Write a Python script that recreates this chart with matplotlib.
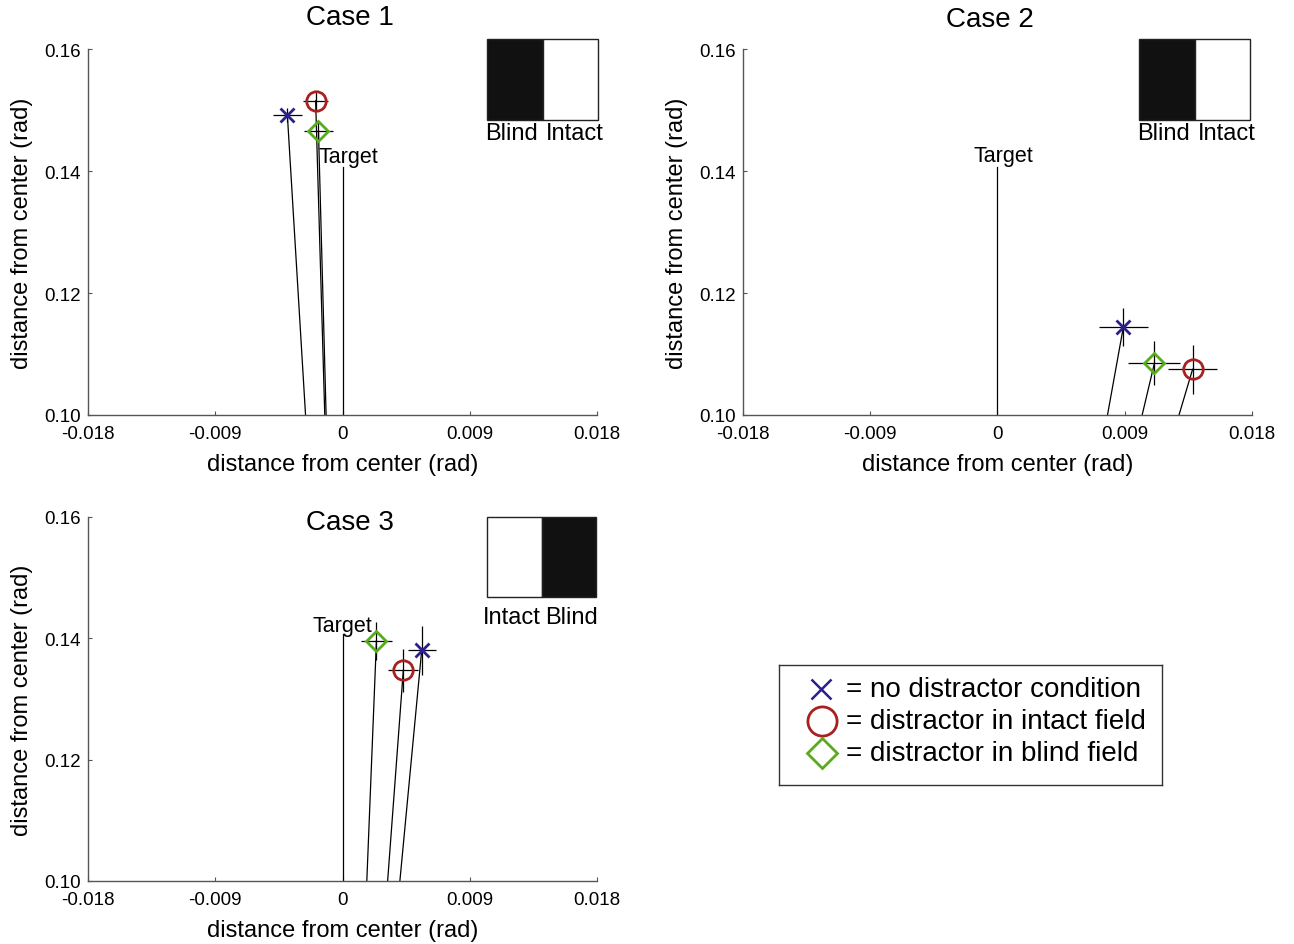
import matplotlib
matplotlib.use("Agg")
import matplotlib.pyplot as plt
from matplotlib.patches import Rectangle

plt.rcParams['font.family'] = ['Liberation Sans', 'DejaVu Sans']

# ---- data ----
cases = ["Case 1", "Case 2", "Case 3"]
field_labels = [("Blind", "Intact"), ("Blind", "Intact"), ("Intact", "Blind")]
field_colors = [("#111111", "white"), ("#111111", "white"), ("white", "#111111")]

target_y = [0.1407, 0.1407, 0.1407]
target_label_x = [0.0004, 0.0004, 0.0]
target_label_y = [0.1423, 0.1425, 0.1421]

no_dist_x = [-0.0039, 0.0089, 0.0056]
no_dist_y = [0.1492, 0.1144, 0.1380]
no_dist_xerr = [0.00103, 0.00171, 0.0010]
no_dist_yerr = [0.0012, 0.0031, 0.0040]

intact_x = [-0.0019, 0.0138, 0.0043]
intact_y = [0.1515, 0.1075, 0.1347]
intact_xerr = [0.00088, 0.00175, 0.00106]
intact_yerr = [0.0016, 0.0040, 0.0036]

blind_x = [-0.0017, 0.0111, 0.0024]
blind_y = [0.1466, 0.1085, 0.1396]
blind_xerr = [0.0010, 0.00184, 0.00108]
blind_yerr = [0.0015, 0.0036, 0.0031]

xticks = [-0.018, -0.009, 0, 0.009, 0.018]
xticklabels = ["-0.018", "-0.009", "0", "0.009", "0.018"]
yticks = [0.10, 0.12, 0.14, 0.16]
yticklabels = ["0.10", "0.12", "0.14", "0.16"]

legend_labels = ["= no distractor condition", "= distractor in intact field",
                 "= distractor in blind field"]

C_X = "#2a1f8c"
C_O = "#a82020"
C_D = "#5aaa1e"

W, H = 1294, 945
fig = plt.figure(figsize=(W / 100, H / 100), dpi=100)


def fr(x0, y0, x1, y1):
    return [x0 / W, 1 - y1 / H, (x1 - x0) / W, (y1 - y0) / H]


axes_px = [(88, 50, 597, 416), (743, 50, 1252, 416), (88, 518, 597, 882)]
title_px = [(350, 18), (990, 20), (350, 523)]
box_px = [(487, 40, 598, 121), (1139, 40, 1250, 121), (487, 518, 596, 598)]
boxlab_y = [134, 134, 618]
boxlab_gap = [(5, 3), (5, 3), (1, 4)]

spine_c = "#555555"

for i, (x0, y0, x1, y1) in enumerate(axes_px):
    ax = fig.add_axes(fr(x0, y0, x1, y1))
    ax.set_xlim(-0.018, 0.018)
    ax.set_ylim(0.10, 0.16)
    for s in ["top", "right"]:
        ax.spines[s].set_visible(False)
    for s in ["left", "bottom"]:
        ax.spines[s].set_color(spine_c)
        ax.spines[s].set_linewidth(1.0)
    ax.set_xticks(xticks)
    ax.set_xticklabels(xticklabels)
    ax.set_yticks(yticks)
    ax.set_yticklabels(yticklabels)
    ax.tick_params(direction="in", length=3, width=0.8, color=spine_c,
                   labelsize=13.5, pad=5)
    ax.tick_params(axis="x", pad=7)
    ax.set_xlabel("distance from center (rad)", fontsize=17, labelpad=8)
    ax.set_ylabel("distance from center (rad)", fontsize=17, labelpad=8)

    # target line
    ax.plot([0, 0], [0, target_y[i]], color="black", lw=0.9)
    ax.text(target_label_x[i], target_label_y[i], "Target", ha="center",
            va="center", fontsize=15.5)

    # lines from origin to endpoints
    for xs, ys in ((no_dist_x, no_dist_y), (intact_x, intact_y), (blind_x, blind_y)):
        ax.plot([0, xs[i]], [0, ys[i]], color="black", lw=0.9)

    # error bars
    for xs, ys, xe, ye in ((no_dist_x, no_dist_y, no_dist_xerr, no_dist_yerr),
                           (intact_x, intact_y, intact_xerr, intact_yerr),
                           (blind_x, blind_y, blind_xerr, blind_yerr)):
        ax.errorbar(xs[i], ys[i], xerr=xe[i], yerr=ye[i], fmt="none",
                    ecolor="black", elinewidth=0.9, capsize=0)

    ax.plot(no_dist_x[i], no_dist_y[i], marker="x", color=C_X, ms=9.5, mew=2,
            ls="none")
    ax.plot(intact_x[i], intact_y[i], marker="o", mfc="none", mec=C_O, ms=14,
            mew=2, ls="none")
    ax.plot(blind_x[i], blind_y[i], marker="D", mfc="none", mec=C_D, ms=10.5,
            mew=2, ls="none")

    # title
    fig.text(title_px[i][0] / W, 1 - title_px[i][1] / H, cases[i],
             ha="center", va="center", fontsize=20)

    # field box
    bx0, by0, bx1, by1 = box_px[i]
    mid = (bx0 + bx1) / 2
    l0 = fr(bx0, by0, mid, by1)
    l1 = fr(mid, by0, bx1, by1)
    fig.patches.append(Rectangle((l0[0], l0[1]), l0[2], l0[3],
                                 transform=fig.transFigure,
                                 facecolor=field_colors[i][0],
                                 edgecolor="#222222", lw=1.0))
    fig.patches.append(Rectangle((l1[0], l1[1]), l1[2], l1[3],
                                 transform=fig.transFigure,
                                 facecolor=field_colors[i][1],
                                 edgecolor="#222222", lw=1.0))
    fig.text((mid - boxlab_gap[i][0]) / W, 1 - boxlab_y[i] / H, field_labels[i][0],
             ha="right", va="center", fontsize=17)
    fig.text((mid + boxlab_gap[i][1]) / W, 1 - boxlab_y[i] / H, field_labels[i][1],
             ha="left", va="center", fontsize=17)

# legend box
lax = fig.add_axes(fr(779, 666, 1162, 786))
lax.set_xlim(0, 383)
lax.set_ylim(120, 0)
lax.set_xticks([])
lax.set_yticks([])
for s in lax.spines.values():
    s.set_color("#333333")
    s.set_linewidth(1.0)
lax.plot(42, 24, marker="x", color=C_X, ms=14, mew=1.8, ls="none")
lax.plot(43, 56, marker="o", mfc="none", mec=C_O, ms=21, mew=2)
lax.plot(43, 88, marker="D", mfc="none", mec=C_D, ms=15, mew=2)
for k, lab in enumerate(legend_labels):
    lax.text(67, 24 + 32 * k, lab, ha="left", va="center", fontsize=20)

fig.savefig("out.png", dpi=100)
